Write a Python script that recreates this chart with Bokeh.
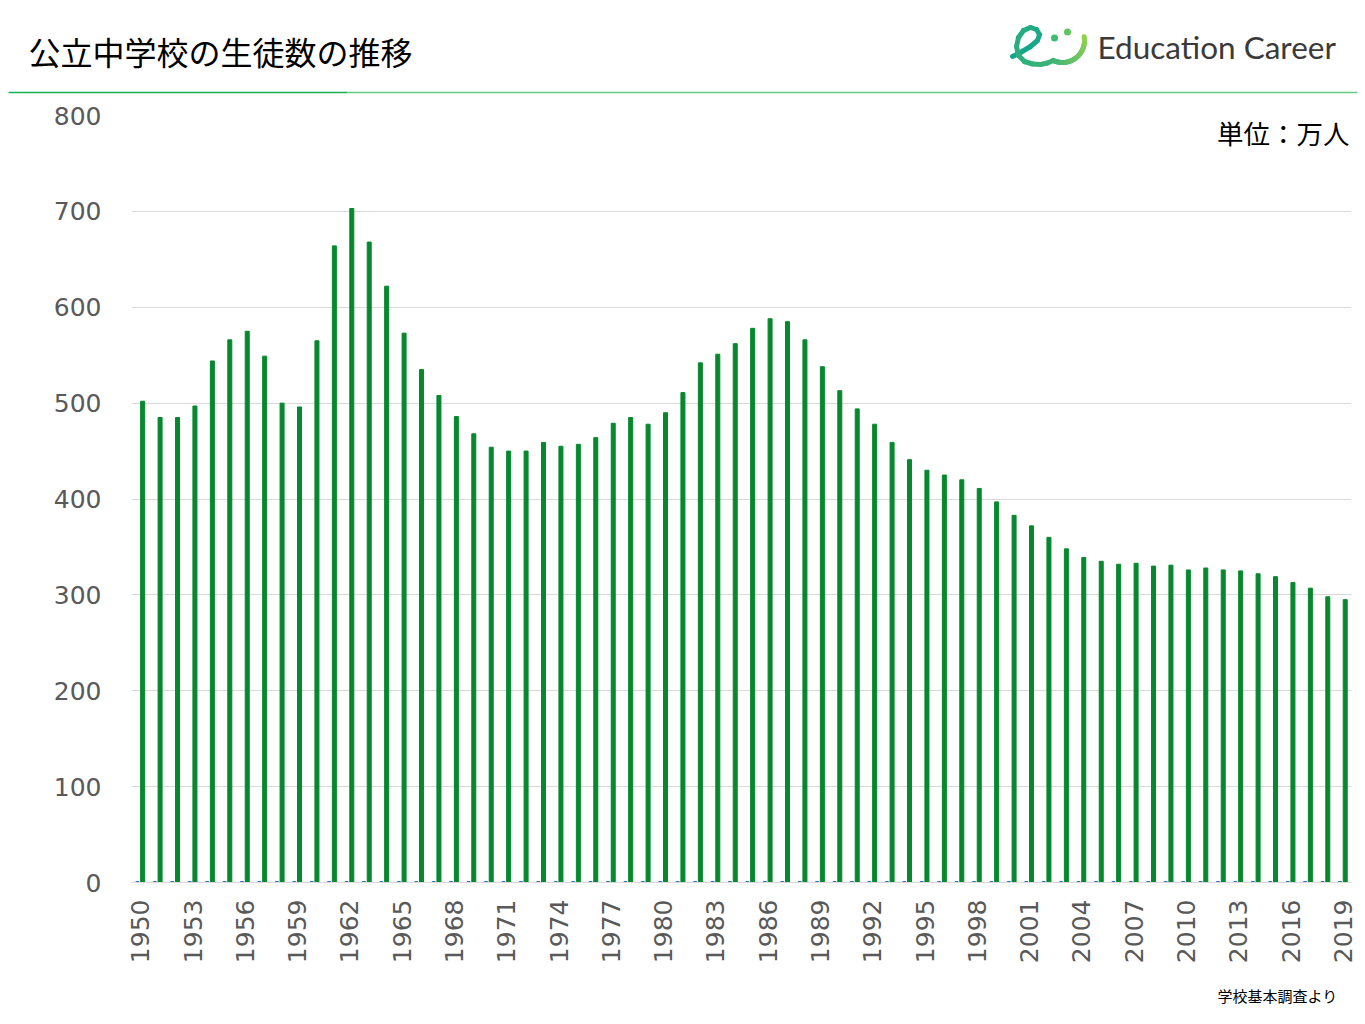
import numpy as np
from bokeh.plotting import figure
from bokeh.models import Range1d, FixedTicker
from bokeh.layouts import column
from bokeh.core.properties import value
from bokeh.embed import file_html
from bokeh.resources import INLINE

# ---------------- data ----------------
years = list(range(1950, 2020))
students = [502, 485, 485, 497, 544, 566, 575, 549, 500, 496,
            565, 664, 703, 668, 622, 573, 535, 508, 486, 468,
            454, 450, 450, 459, 455, 457, 464, 479, 485, 478,
            490, 511, 542, 551, 562, 578, 588, 585, 566, 538,
            513, 494, 478, 459, 441, 430, 425, 420, 411, 397,
            383, 372, 360, 348, 339, 335, 332, 333, 330, 331,
            326, 328, 326, 325, 322, 319, 313, 307, 298, 295]
second_series = [1, 1, 1, 1, 1, 1, 1, 1, 1, 1,
                 1, 1, 1, 1, 1, 1, 1, 1, 1, 1,
                 1, 1, 1, 1, 1, 1, 1, 1, 1, 1,
                 1, 1, 1, 1, 1, 1, 1, 1, 1, 1,
                 1, 1, 1, 1, 1, 1, 1, 1, 1, 1,
                 1, 1, 1, 1, 1, 1, 1, 1, 1, 1,
                 1, 1, 1, 1, 1, 1, 1, 1, 1, 1]
tick_years = [1950, 1953, 1956, 1959, 1962, 1965, 1968, 1971, 1974, 1977,
              1980, 1983, 1986, 1989, 1992, 1995, 1998, 2001, 2004, 2007,
              2010, 2013, 2016, 2019]
y_ticks = [0, 100, 200, 300, 400, 500, 600, 700, 800]

title_text = "公立中学校の生徒数の推移"
unit_text = "単位：万人"
source_text = "学校基本調査より"
brand_text = "Education Career"

W = 1365
JP = "Noto Sans CJK JP"
GRAY = "#595959"
NUMFONT = "DejaVu Sans"


def blank(fig):
    fig.axis.visible = False
    fig.grid.visible = False
    fig.outline_line_color = None
    fig.background_fill_color = "white"
    fig.border_fill_color = "white"


# ---------------- header ----------------
HH = 94
hdr = figure(width=W, height=HH, x_range=Range1d(0, W), y_range=Range1d(HH, 0),
             toolbar_location=None, output_backend="svg", min_border=0)
hdr.frame_align = False
blank(hdr)

hdr.text(x=[28], y=[50], text=[title_text], text_font=value(JP),
         text_font_size="32px", text_color="#000000", text_baseline="middle",
         text_align="left")
hdr.segment(x0=[8], y0=[92], x1=[347], y1=[92], line_color="#17b04f", line_width=1.5)
hdr.segment(x0=[347], y0=[92], x1=[1357], y1=[92], line_color="#62cc88", line_width=1.5)

# logo icon (decoration)
e_pts = [(1012, 56), (1020, 52), (1030, 46), (1037, 40), (1039, 34), (1036, 29),
         (1030, 27), (1023, 30), (1018, 37), (1016, 46), (1018, 55), (1024, 61),
         (1032, 63.5), (1040, 64), (1047, 62.5)]
t = np.radians(np.linspace(115, -10, 30))
smile = [(1062 + 22 * np.cos(a), 40 + 22 * np.sin(a)) for a in t]
path = e_pts + smile
c0 = np.array([0x12, 0xa5, 0x8c])
c1 = np.array([0x90, 0xd2, 0x4f])
xs, ys, cols = [], [], []
n = len(path)
for i in range(n - 1):
    xs.append([path[i][0], path[i + 1][0]])
    ys.append([path[i][1], path[i + 1][1]])
    f = i / (n - 2)
    c = (c0 * (1 - f) + c1 * f).astype(int)
    cols.append("#%02x%02x%02x" % tuple(c))
hdr.multi_line(xs=xs, ys=ys, line_color=cols, line_width=5, line_cap="round")
hdr.scatter(x=[1054, 1067], y=[37.5, 31.5], size=[7, 7],
            color=["#3dbd72", "#5fc560"], line_color=None)
hdr.text(x=[1097], y=[46], text=[brand_text], text_font=value("Lato"),
         text_font_size="31.5px", text_color="#3a3a3a", text_baseline="middle",
         text_align="left")

# ---------------- main chart ----------------
MH = 881
p = figure(width=W, height=MH, x_range=Range1d(1949.5, 2019.5),
           y_range=Range1d(0, 800), toolbar_location=None, output_backend="svg",
           min_border_left=131, min_border_right=14, min_border_top=21,
           min_border_bottom=93)
p.frame_align = False
p.outline_line_color = None
p.background_fill_color = "white"
p.border_fill_color = "white"

x_green = [y + 0.14 for y in years]
x_blue = [y - 0.16 for y in years]
p.vbar(x=x_blue, top=second_series, bottom=0, width=0.17, color="#2e6fba")
p.vbar(x=x_green, top=students, bottom=0, width=0.23, color="#07882e")

p.xgrid.visible = False
p.ygrid.grid_line_color = "#d9d9d9"
p.ygrid.grid_line_width = 1
p.yaxis.ticker = FixedTicker(ticks=y_ticks)
p.xaxis.ticker = FixedTicker(ticks=tick_years)

p.yaxis.axis_line_color = None
p.yaxis.major_tick_line_color = None
p.yaxis.minor_tick_line_color = None
p.yaxis.major_tick_out = 0
p.yaxis.major_label_standoff = 30
p.yaxis.major_label_text_font = NUMFONT
p.yaxis.major_label_text_font_size = "25px"
p.yaxis.major_label_text_color = GRAY

p.xaxis.axis_line_color = "#d9d9d9"
p.xaxis.axis_line_width = 1
p.xaxis.major_tick_line_color = None
p.xaxis.minor_tick_line_color = None
p.xaxis.major_tick_out = 0
p.xaxis.major_label_standoff = 17
p.xaxis.major_label_orientation = np.pi / 2
p.xaxis.major_label_text_font = NUMFONT
p.xaxis.major_label_text_font_size = "25px"
p.xaxis.major_label_text_color = GRAY

p.text(x=[2019.38], y=[782], text=[unit_text], text_font=value(JP),
       text_font_size="26.5px", text_color="#000000",
       text_align="right", text_baseline="middle")

# ---------------- footer ----------------
FH = 45
ftr = figure(width=W, height=FH, x_range=Range1d(0, W), y_range=Range1d(FH, 0),
             toolbar_location=None, output_backend="svg", min_border=0)
ftr.frame_align = False
blank(ftr)
ftr.text(x=[1337], y=[20], text=[source_text], text_font=value(JP),
         text_font_size="15px", text_color="#000000", text_baseline="middle",
         text_align="right")

layout = column(hdr, p, ftr, spacing=0)
open("out.html", "w").write(file_html(layout, INLINE))
